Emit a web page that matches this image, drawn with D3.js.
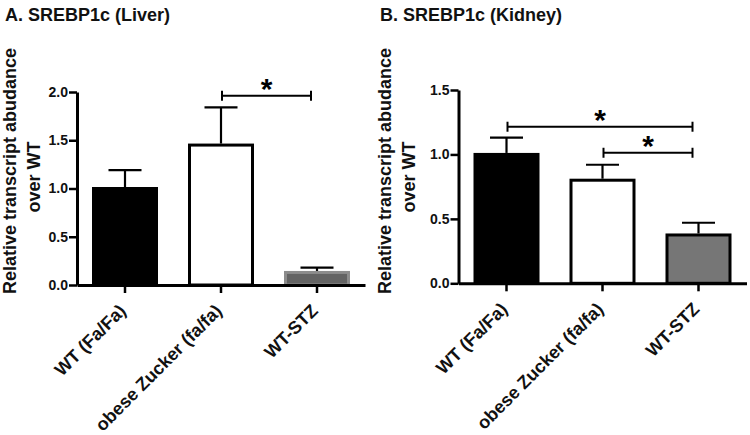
<!DOCTYPE html>
<html>
<head>
<meta charset="utf-8">
<script src="https://cdn.jsdelivr.net/npm/d3@7"></script>
<style>
  html, body { margin: 0; padding: 0; background: #fff; }
  svg { display: block; font-family: "Liberation Sans", Arial, Helvetica, sans-serif; }
</style>
</head>
<body>
<svg id="chart" width="750" height="435"></svg>
<script>
// ---------- DATA ----------
const categories = ["WT (Fa/Fa)", "obese Zucker (fa/fa)", "WT-STZ"];

const liverMeans = [1.00, 1.45, 0.13];
const liverErr   = [0.19, 0.39, 0.05];
const liverTicks = [0, 0.5, 1.0, 1.5, 2.0];
const liverSig   = [{ from: 1, to: 2, y: 1.96 }];

const kidneyMeans = [1.00, 0.80, 0.375];
const kidneyErr   = [0.13, 0.12, 0.095];
const kidneyTicks = [0, 0.5, 1.0, 1.5];
const kidneySig   = [{ from: 0, to: 2, y: 1.215 }, { from: 1, to: 2, y: 1.013 }];

const titles = ["A. SREBP1c (Liver)", "B. SREBP1c (Kidney)"];
const yLabelLines = ["Relative transcript abudance", "over WT"];

// ---------- LAYOUT / STYLE ----------
const svg = d3.select("#chart");
svg.append("rect").attr("width", 750).attr("height", 435).attr("fill", "#fff");

const panels = [
  { ox: 0,   x0: 77,    x1: 365,   yTop: 92, yBot: 285,   max: 2.0, means: liverMeans, err: liverErr, ticks: liverTicks, sig: liverSig,
    fills: ["#000", "#fff", "#636363"], strokes: ["#000", "#000", "#8c8c8c"], title: titles[0] },
  { ox: 375, x0: 458.5, x1: 746.5, yTop: 90, yBot: 283.3, max: 1.5, means: kidneyMeans, err: kidneyErr, ticks: kidneyTicks, sig: kidneySig,
    fills: ["#000", "#fff", "#767676"], strokes: ["#000", "#000", "#000"], title: titles[1] }
];

panels.forEach(p => {
  const g = svg.append("g");
  const x = d3.scaleBand().domain(categories).range([p.x0, p.x1]).paddingInner(0.3125).paddingOuter(0.15625);
  const y = d3.scaleLinear().domain([0, p.max]).range([p.yBot, p.yTop]);
  const bw = x.bandwidth();

  // title
  g.append("text")
    .attr("x", p.ox + 5).attr("y", 21)
    .attr("font-size", 18).attr("font-weight", "bold").attr("fill", "#111")
    .text(p.title);

  // y label
  const yl = [{ t: yLabelLines[0], bx: 16, cy: 171 }, { t: yLabelLines[1], bx: 40, cy: 177 }];
  yl.forEach(l => {
    g.append("text")
      .attr("transform", `translate(${p.ox + l.bx},${l.cy}) rotate(-90)`)
      .attr("text-anchor", "middle")
      .attr("font-size", 18).attr("font-weight", "bold").attr("fill", "#111")
      .text(l.t);
  });

  // bars
  g.selectAll("rect.bar").data(p.means).enter().append("rect")
    .attr("class", "bar")
    .attr("x", (d, i) => x(categories[i]) + 1.5)
    .attr("width", bw - 3)
    .attr("y", d => y(d))
    .attr("height", d => y(0) - y(d))
    .attr("fill", (d, i) => p.fills[i])
    .attr("stroke", (d, i) => p.strokes[i])
    .attr("stroke-width", 3);

  // error bars
  const capW = 33;
  p.means.forEach((m, i) => {
    const cx = x(categories[i]) + bw / 2;
    g.append("line").attr("x1", cx).attr("x2", cx).attr("y1", y(m) - 1.5).attr("y2", y(m + p.err[i]))
      .attr("stroke", "#000").attr("stroke-width", 2.2);
    g.append("line").attr("x1", cx - capW / 2).attr("x2", cx + capW / 2).attr("y1", y(m + p.err[i])).attr("y2", y(m + p.err[i]))
      .attr("stroke", "#000").attr("stroke-width", 2.2);
  });

  // y axis
  const yAxis = d3.axisLeft(y).tickValues(p.ticks).tickFormat(d3.format(".1f")).tickSize(8).tickSizeOuter(0).tickPadding(1);
  const ya = g.append("g").attr("transform", `translate(${p.x0},0)`).call(yAxis);
  ya.select(".domain").attr("stroke", "#000").attr("stroke-width", 3);
  ya.selectAll(".tick line").attr("stroke", "#000").attr("stroke-width", 2.5);
  ya.selectAll(".tick text").attr("font-size", 14).attr("font-weight", "bold").attr("fill", "#111")
    .attr("font-family", "'Liberation Sans', Arial, sans-serif");

  // x axis
  const xAxis = d3.axisBottom(x).tickSize(8).tickSizeOuter(0).tickFormat("");
  const xa = g.append("g").attr("transform", `translate(0,${p.yBot})`).call(xAxis);
  xa.select(".domain").attr("stroke", "#000").attr("stroke-width", 3);
  xa.selectAll(".tick line").attr("stroke", "#000").attr("stroke-width", 2.5);

  // x labels rotated
  g.selectAll("text.xl").data(categories).enter().append("text")
    .attr("class", "xl")
    .attr("transform", d => `translate(${x(d) + bw / 2 + 2},${p.yBot + 27}) rotate(-45)`)
    .attr("text-anchor", "end")
    .attr("font-size", 18).attr("font-weight", "bold").attr("fill", "#111")
    .text(d => d);

  // significance brackets
  p.sig.forEach(s => {
    const xa1 = x(categories[s.from]) + bw / 2 + 1;
    const xa2 = x(categories[s.to]) + bw / 2 - 6;
    const yy = y(s.y);
    g.append("line").attr("x1", xa1).attr("x2", xa2).attr("y1", yy).attr("y2", yy).attr("stroke", "#000").attr("stroke-width", 2);
    [xa1, xa2].forEach(xx => g.append("line").attr("x1", xx).attr("x2", xx).attr("y1", yy - 5).attr("y2", yy + 5)
      .attr("stroke", "#000").attr("stroke-width", 2));
    g.append("text").attr("x", (xa1 + xa2) / 2).attr("y", yy + 3)
      .attr("text-anchor", "middle").attr("font-size", 30).attr("font-weight", "bold").attr("fill", "#000")
      .text("*");
  });
});
</script>
</body>
</html>
